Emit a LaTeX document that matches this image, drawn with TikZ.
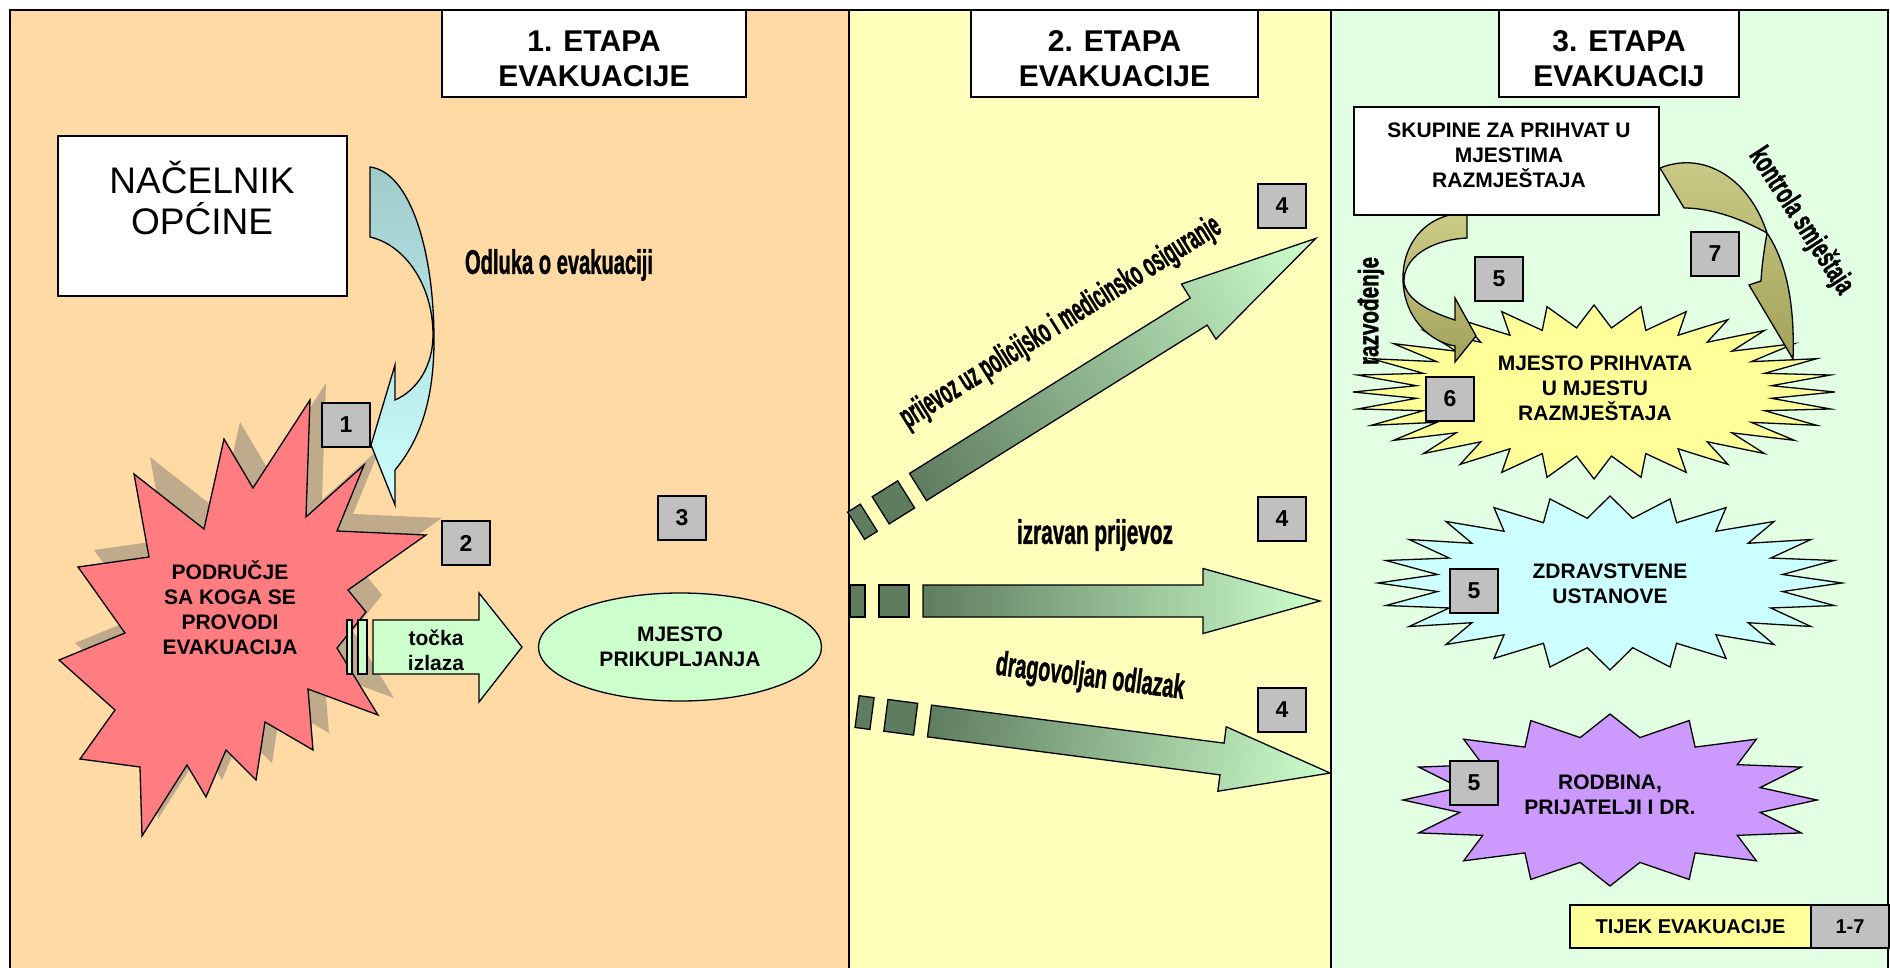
\documentclass[tikz,border=0pt]{standalone}
\usepackage{fontspec}
\setmainfont{Liberation Sans}
\newfontfamily\wordartfont{Liberation Sans}[BoldFeatures={FakeBold=1.5}]
\usepackage{xcolor}
\usetikzlibrary{positioning,shapes.geometric,calc}

\definecolor{etapaprva}{HTML}{FFDAA5}
\definecolor{etapadruga}{HTML}{FFFFBB}
\definecolor{etapatreca}{HTML}{E3FFE3}
\definecolor{siva}{HTML}{C0C0C0}
\definecolor{crvena}{HTML}{FF7C80}
\definecolor{sjena}{HTML}{BFAA8C}
\definecolor{svijetlozelena}{HTML}{CCFFCC}
\definecolor{tamnozelena}{HTML}{5F7C5F}
\definecolor{zuta}{HTML}{FFFF99}
\definecolor{tirkizna}{HTML}{CCFFFF}
\definecolor{ljubicasta}{HTML}{CC99FF}
\definecolor{plavosiva}{HTML}{9FCACA}
\definecolor{maslinasta}{HTML}{CCCC88}
\definecolor{maslinastatamna}{HTML}{A2A25A}

\newcommand{\natpis}[2]{\resizebox{#1}{\height}{#2}}
% zvijezda: sredina, rx, ry, broj krakova, omjer, boja
\newcommand{\zvijezda}[6]{%
  \pgfmathtruncatemacro\kraj{2*#4-1}
  \draw[line width=1.3pt,fill=#6,shift={(#1)}] (90:#2 and #3)
    \foreach \k in {1,...,\kraj} {-- ({90+\k*180/#4}:{#2*(1-(1-#5)*mod(\k,2))} and {#3*(1-(1-#5)*mod(\k,2))})} -- cycle;
}
\def\obrispodrucja{(134,474) -- (204,529) -- (224,439) -- (253,488) -- (310,400) -- (306,517) -- (364,465) -- (337,531) -- (426,535) -- (348,590) -- (366,612) -- (337,648) -- (378,715) -- (308,689) -- (313,750) -- (265,722) -- (256,780) -- (226,750) -- (206,797) -- (187,765) -- (142,836) -- (140,767) -- (80,759) -- (115,710) -- (59,660) -- (125,633) -- (78,567) -- (149,557) -- cycle}

\begin{document}
\begin{tikzpicture}[x=1pt,y=-1pt,
    okvir/.style={draw,line width=1.3pt,fill=white,inner sep=0pt,outer sep=0pt},
    broj/.style={draw,line width=1.3pt,fill=siva,minimum width=48pt,minimum height=44pt,inner sep=0pt,outer sep=0pt,font=\fontsize{23}{23}\selectfont\bfseries},
    naslov/.style={align=center,inner sep=0pt,font=\fontsize{30}{35}\selectfont\bfseries},
    tekst/.style={align=center,inner sep=0pt,font=\fontsize{21}{25}\selectfont\bfseries},
    wordart/.style={inner sep=0pt,font=\fontsize{#1}{#1}\selectfont\wordartfont\bfseries}]
    \useasboundingbox (0,0) rectangle (1890,968);
    \clip (0,0) rectangle (1890,968);
    \fill[white] (0,0) rectangle (1890,968);
    % tri etape
    \fill[etapaprva] (10,10) rectangle (849,980);
    \fill[etapadruga] (849,10) rectangle (1331,980);
    \fill[etapatreca] (1331,10) rectangle (1888,980);
    \draw[line width=1.5pt] (10,980) -- (10,10) -- (1888,10) -- (1888,980) (849,10) -- (849,980) (1331,10) -- (1331,980);
    \node[okvir,minimum width=304pt,minimum height=87pt,anchor=north] (etapa1) at (594,10) {};
    \node[naslov] at ($(etapa1.center)+(0,5)$) {1. ETAPA\\EVAKUACIJE};
    \node[okvir,minimum width=287pt,minimum height=87pt,anchor=north] (etapa2) at (1114.5,10) {};
    \node[naslov] at ($(etapa2.center)+(0,5)$) {2. ETAPA\\EVAKUACIJE};
    \node[okvir,minimum width=240pt,minimum height=87pt,anchor=north] (etapa3) at (1619,10) {};
    \node[naslov] at ($(etapa3.center)+(0,5)$) {3. ETAPA\\EVAKUACIJ};

    % 1. etapa
    \node[okvir,minimum width=289pt,minimum height=160pt,anchor=north west] (nacelnik) at (58,136) {};
    \node[align=center,inner sep=0pt,font=\fontsize{37}{41}\selectfont] at (202,198) {NAČELNIK\\OPĆINE};
    \fill[sjena,shift={(16,-17)}] \obrispodrucja;
    \draw[line width=1.3pt,fill=crvena] \obrispodrucja;
    \node[tekst] (podrucje) at (230,608) {PODRUČJE\\SA KOGA SE\\PROVODI\\EVAKUACIJA};
    \draw[line width=1.3pt,top color=plavosiva,bottom color=tirkizna] (370,167) -- (370,237) .. controls (405,245) and (433,285) .. (433,335) .. controls (433,365) and (418,390) .. (395,400) -- (395,365) -- (371,445) -- (395,505) -- (395,470) .. controls (420,440) and (434,400) .. (434,340) .. controls (434,250) and (410,172) .. (370,167) -- cycle;
    \node[wordart=34] (odluka) at (559,265) {\natpis{188pt}{Odluka o evakuaciji}};
    \node[broj,anchor=north west] (b1) at (322,403) {1};
    \node[broj,anchor=north west] (b2) at (442,521) {2};
    \node[broj,anchor=north west] (b3) at (658,496) {3};
    \draw[line width=1.3pt,fill=svijetlozelena] (347,620) rectangle (352,674) (358,620) rectangle (367,674);
    \draw[line width=1.3pt,fill=svijetlozelena] (373,620) -- (479,620) -- (479,593) -- (522,647) -- (479,702) -- (479,674) -- (373,674) -- cycle;
    \node[tekst] (izlaz) at (436,650) {točka\\izlaza};
    \node[draw,ellipse,line width=1.3pt,fill=svijetlozelena,minimum width=283pt,minimum height=108pt,tekst] (prikupljanje) at (680,647) {MJESTO\\PRIKUPLJANJA};

    % 2. etapa: prijevoz
    \foreach \ax/\ay/\kut/\dulj/\glava in {918/487/32/469/138,923/601/0/397/117,929.5/721/-7.4/404/109}{
      \begin{scope}[transform canvas={shift={(\ax,\ay)},rotate=\kut},line width=1.3pt]
        \draw[fill=tamnozelena] (-73,-16) rectangle (-58,16) (-44,-16) rectangle (-14,16);
        \draw[left color=tamnozelena,right color=svijetlozelena] (0,-16) -- ({\dulj-\glava},-16) -- ({\dulj-\glava},-32.5) -- (\dulj,0) -- ({\dulj-\glava},32.5) -- ({\dulj-\glava},16) -- (0,16) -- cycle;
      \end{scope}
    }
    \node[wordart=33,rotate=32] (policija) at (1061,323) {\natpis{372pt}{prijevoz uz policijsko i medicinsko osiguranje}};
    \node[wordart=34] (izravno) at (1095,535) {\natpis{156pt}{izravan prijevoz}};
    \node[wordart=34,rotate=-7.4] (dragovoljno) at (1090,678) {\natpis{190pt}{dragovoljan odlazak}};
    \node[broj,anchor=north west] (b4a) at (1258,184) {4};
    \node[broj,anchor=north west] (b4b) at (1258,497) {4};
    \node[broj,anchor=north west] (b4c) at (1258,688) {4};

    % 3. etapa
    \zvijezda{1594,392}{241}{87}{32}{0.74}{zuta}
    \zvijezda{1610,583}{232}{87}{24}{0.75}{tirkizna}
    \zvijezda{1610,800}{207}{86}{16}{0.74}{ljubicasta}
    \node[tekst] (prihvat) at (1595,388) {MJESTO PRIHVATA\\U MJESTU\\RAZMJEŠTAJA};
    \node[tekst] (ustanove) at (1610,584) {ZDRAVSTVENE\\USTANOVE};
    \node[tekst] (rodbina) at (1610,795) {RODBINA,\\PRIJATELJI I DR.};
    \draw[line width=1.3pt,top color=maslinasta,bottom color=maslinastatamna] (1467,213) .. controls (1425,213) and (1402,245) .. (1403,280) .. controls (1404,318) and (1430,342) .. (1455,346) -- (1455,362) -- (1476,336) -- (1455,298) -- (1455,320) .. controls (1430,312) and (1406,300) .. (1404,282) .. controls (1403,258) and (1430,240) .. (1467,238) -- cycle;
    \draw[line width=1.3pt,top color=maslinasta,bottom color=maslinastatamna] (1660,168) .. controls (1705,150) and (1750,180) .. (1767,233) .. controls (1785,260) and (1795,300) .. (1793,359) -- (1749,285) -- (1761,281) .. controls (1762,262) and (1765,245) .. (1767,233) .. controls (1740,218) and (1710,208) .. (1684,208) -- cycle;
    \node[okvir,minimum width=305pt,minimum height=108pt,anchor=north west] (skupine) at (1354,107) {};
    \node[tekst] at (1509,155) {SKUPINE ZA PRIHVAT U\\MJESTIMA\\RAZMJEŠTAJA};
    \node[wordart=28,rotate=90] (razvodenje) at (1371,311) {\natpis{108pt}{razvođenje}};
    \node[wordart=30,rotate=-57] (kontrola) at (1801,221) {\natpis{168pt}{kontrola smještaja}};
    \node[broj,anchor=north west] (b5a) at (1475,257) {5};
    \node[broj,anchor=north west] (b7) at (1691,232) {7};
    \node[broj,anchor=north west] (b6) at (1426,377) {6};
    \node[broj,anchor=north west] (b5b) at (1450,569) {5};
    \node[broj,anchor=north west] (b5c) at (1450,761) {5};

    % legenda
    \node[draw,line width=1.3pt,fill=zuta,minimum width=241pt,minimum height=43pt,outer sep=0pt,anchor=north west,font=\fontsize{20}{20}\selectfont\bfseries] (tijek) at (1570,905) {TIJEK EVAKUACIJE};
    \node[broj,minimum width=78pt,minimum height=43pt,right=0pt of tijek,font=\fontsize{20}{20}\selectfont\bfseries] (raspon) {1-7};
\end{tikzpicture}
\end{document}
